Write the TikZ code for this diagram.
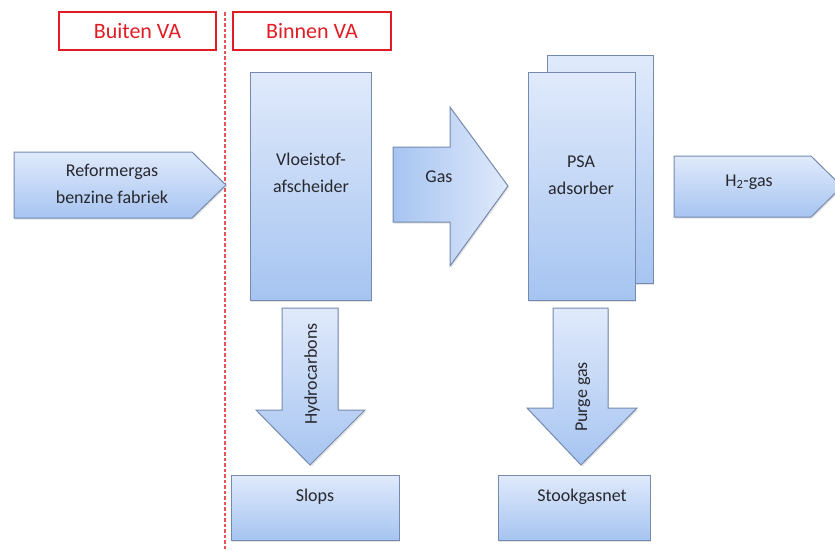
\documentclass[tikz,border=0pt]{standalone}
\usepackage{fontspec}
\setmainfont{Carlito}
\usetikzlibrary{shadows}
\definecolor{boxtop}{RGB}{224,234,251}
\definecolor{boxbot}{RGB}{166,196,241}
\definecolor{boxline}{RGB}{118,138,176}
\definecolor{vared}{RGB}{226,28,36}
\definecolor{vadash}{RGB}{230,84,90}
\definecolor{txt}{RGB}{40,40,46}

\tikzset{
  blockfill/.style={top color=boxtop, bottom color=boxbot, draw=boxline, line width=1pt,
    drop shadow={shadow xshift=1.2pt, shadow yshift=-1.6pt, opacity=0.22}},
  sidefill/.style={left color=boxbot, right color=boxtop, draw=boxline, line width=1pt,
    drop shadow={shadow xshift=1.2pt, shadow yshift=-1.6pt, opacity=0.22}},
  lbl/.style={font=\fontsize{18}{27}\selectfont, text=txt, align=center, inner sep=0pt},
  vabox/.style={draw=vared, line width=1.1pt, text=vared, font=\fontsize{22}{26}\selectfont,
    minimum height=38pt, inner sep=0pt},
  divider/.style={draw=vadash, line width=1.1pt, dash pattern=on 3.5pt off 2pt}
}

\begin{document}
\begin{tikzpicture}[x=1pt,y=-1pt]
\useasboundingbox (0,0) rectangle (835,550);

% zone headers and the boundary between them
\node[vabox, minimum width=157pt] (buiten) at (137.5,31) {Buiten VA};
\node[vabox, minimum width=158pt] (binnen) at (312,31) {Binnen VA};
\coordinate (divtop) at (225,12);
\coordinate (divbot) at (225,550);
\path[divider] (divtop) -- (divbot);

% feed arrow
\path[blockfill] (14,152) -- (192,152) -- (226,185) -- (192,218) -- (14,218) -- cycle;
\node[lbl] (feed) at (112,184) {Reformergas\\benzine fabriek};

% liquid separator
\path[blockfill] (250,72) rectangle (371,300);
\node[lbl] (sep) at (311,173) {Vloeistof-\\afscheider};

% gas arrow to PSA
\path[sidefill] (393,147) -- (450,147) -- (450,107) -- (508,186) -- (450,266)
  -- (450,222) -- (393,222) -- cycle;
\node[lbl] (gas) at (439,177) {Gas};

% PSA adsorbers (two stacked vessels)
\path[blockfill] (547,55) rectangle (653,283);
\path[blockfill] (528,72) rectangle (635,300);
\node[lbl] (psa) at (581,175) {PSA\\adsorber};

% product arrow
\begin{scope}
\clip (0,0) rectangle (835,550);
\path[blockfill] (674,156) -- (811,156) -- (842,186.5) -- (811,217) -- (674,217) -- cycle;
\end{scope}
\node[lbl] (h2) at (749,182) {H\textsubscript{2}-gas};

% hydrocarbons down to slops
\path[blockfill] (282,308) -- (338,308) -- (338,410) -- (365,410) -- (310,465)
  -- (256,410) -- (282,410) -- cycle;
\node[lbl, rotate=90] (hc) at (312,374) {Hydrocarbons};
\path[blockfill] (231,475) rectangle (399,540);
\node[lbl] (slops) at (315,497) {Slops};

% purge gas down to fuel gas net
\path[blockfill] (553,308) -- (608,308) -- (608,408) -- (637,408) -- (581,465)
  -- (527,408) -- (553,408) -- cycle;
\node[lbl, rotate=90] (purge) at (583,397) {Purge gas};
\path[blockfill] (498,475) rectangle (650,540);
\node[lbl] (stook) at (582,497) {Stookgasnet};
\end{tikzpicture}
\end{document}
